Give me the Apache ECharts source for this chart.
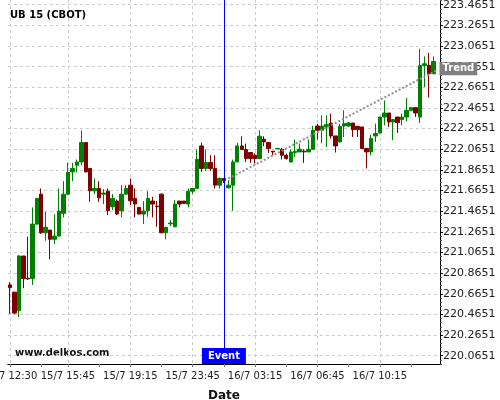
<!DOCTYPE html>
<html>
<head>
<meta charset="utf-8">
<script src="https://cdn.jsdelivr.net/npm/echarts@6/dist/echarts.min.js"></script>
<style>
  html, body { margin: 0; padding: 0; background: #fff; }
  #chart { width: 500px; height: 400px; }
</style>
</head>
<body>
<div id="chart"></div>
<script>
// 15-minute bars, UB 15 (CBOT)
const barCount = 97
const open = [220.751, 220.681, 220.503, 221.031, 220.816, 220.812, 221.340, 221.630, 221.256, 221.282,
  221.193, 221.224, 221.444, 221.630, 221.846, 221.910, 221.942, 222.130, 221.879, 221.662,
  221.685, 221.630, 221.659, 221.508, 221.563, 221.469, 221.630, 221.717, 221.589, 221.502,
  221.437, 221.469, 221.563, 221.514, 221.630, 221.256, 221.343, 221.314, 221.563, 221.563,
  221.534, 221.659, 221.685, 222.097, 221.879, 221.936, 221.879, 221.717, 221.782, 221.691,
  221.717, 221.942, 222.097, 222.062, 222.033, 222.007, 221.975, 222.162, 222.130, 222.046,
  222.068, 222.065, 222.007, 221.942, 222.033, 222.039, 222.046, 222.039, 222.065, 222.290,
  222.249, 222.281, 222.319, 222.194, 222.136, 222.290, 222.290, 222.319, 222.287, 222.281,
  222.072, 222.039, 222.194, 222.223, 222.377, 222.416, 222.329, 222.377, 222.352, 222.377,
  222.442, 222.468, 222.377, 222.877, 222.877, 222.796]
const close = [220.725, 220.478, 221.031, 220.812, 220.809, 221.340, 221.589, 221.256, 221.309, 221.193,
  221.224, 221.466, 221.630, 221.840, 221.879, 221.942, 222.130, 221.846, 221.662, 221.685,
  221.594, 221.640, 221.469, 221.589, 221.437, 221.630, 221.685, 221.565, 221.534, 221.437,
  221.466, 221.589, 221.534, 221.509, 221.256, 221.309, 221.350, 221.534, 221.534, 221.541,
  221.659, 221.685, 221.968, 221.879, 221.936, 221.879, 221.717, 221.782, 221.763, 221.717,
  221.942, 222.097, 222.062, 221.975, 221.975, 221.975, 222.191, 222.136, 222.072, 222.039,
  222.072, 222.007, 221.975, 222.039, 222.046, 222.065, 222.039, 222.065, 222.249, 222.249,
  222.290, 222.304, 222.194, 222.097, 222.287, 222.313, 222.319, 222.255, 222.255, 222.072,
  222.039, 222.168, 222.217, 222.377, 222.416, 222.329, 222.352, 222.323, 222.377, 222.442,
  222.468, 222.416, 222.877, 222.893, 222.796, 222.915]
const low = [220.471, 220.468, 220.439, 220.719, 220.799, 220.751, 221.331, 221.244, 221.179, 220.999,
  221.147, 221.218, 221.405, 221.621, 221.756, 221.840, 221.910, 221.840, 221.556, 221.630,
  221.556, 221.534, 221.427, 221.476, 221.427, 221.405, 221.630, 221.524, 221.405, 221.437,
  221.340, 221.411, 221.405, 221.314, 221.251, 221.193, 221.321, 221.309, 221.502, 221.534,
  221.502, 221.630, 221.679, 221.846, 221.855, 221.855, 221.685, 221.685, 221.737, 221.685,
  221.469, 221.942, 222.062, 221.942, 221.933, 221.927, 221.968, 222.094, 222.029, 222.007,
  222.068, 221.965, 221.965, 221.936, 221.991, 222.039, 221.933, 222.039, 222.062, 222.159,
  222.123, 222.087, 222.168, 222.033, 222.130, 222.184, 222.281, 222.184, 222.184, 222.072,
  221.879, 222.007, 222.136, 222.217, 222.297, 222.281, 222.152, 222.223, 222.297, 222.336,
  222.432, 222.377, 222.319, 222.667, 222.565, 222.796]
const high = [220.777, 220.684, 221.041, 221.031, 221.218, 221.502, 221.594, 221.685, 221.459, 221.282,
  221.434, 221.685, 221.756, 221.933, 221.933, 221.965, 222.249, 222.130, 221.879, 221.782,
  221.756, 221.679, 221.685, 221.630, 221.579, 221.717, 221.717, 221.782, 221.685, 221.502,
  221.563, 221.659, 221.604, 221.563, 221.637, 221.314, 221.379, 221.572, 221.563, 221.563,
  221.685, 221.685, 222.062, 222.130, 222.062, 222.007, 222.007, 221.792, 221.782, 221.765,
  221.965, 222.126, 222.191, 222.120, 222.039, 222.026, 222.249, 222.191, 222.130, 222.046,
  222.072, 222.078, 222.023, 222.062, 222.159, 222.120, 222.065, 222.159, 222.290, 222.313,
  222.394, 222.394, 222.410, 222.194, 222.313, 222.442, 222.329, 222.319, 222.287, 222.281,
  222.072, 222.207, 222.313, 222.377, 222.538, 222.416, 222.352, 222.377, 222.410, 222.561,
  222.474, 222.468, 223.038, 222.964, 222.999, 222.964]

// x tick labels (bar index -> label)
const timeTickIdx = [0, 13, 27, 41, 55, 69, 83]
const timeTickLabels = ['15/7 12:30', '15/7 15:45', '15/7 19:15', '15/7 23:45', '16/7 03:15', '16/7 06:45', '16/7 10:15']
const minorTimeIdx = [0, 7, 13, 20, 27, 34, 41, 48, 55, 62, 69, 76, 83, 90]

// y tick labels
const priceTicks = [220.0651, 220.2651, 220.4651, 220.6651, 220.8651, 221.0651, 221.2651, 221.4651, 221.6651,
  221.8651, 222.0651, 222.2651, 222.4651, 222.6651, 222.8651, 223.0651, 223.2651, 223.4651]
const priceMin = 219.9848
const priceMax = 223.5106

// event & trend
const eventIdx = 48
const trendStart = [49, 221.78]
const trendEnd = [96, 222.835]

const FONT = 'DejaVu Sans'

const categories = Array.from({ length: barCount }, (_, i) => String(i))
const candles = open.map((o, i) => [o, close[i], low[i], high[i]])

const minorPriceTicks = []
priceTicks.forEach(v => {
  for (let k = 1; k < 5; k++) minorPriceTicks.push(v - 0.2 + k * 0.04)
})
minorPriceTicks.push(priceTicks[priceTicks.length - 1] + 0.04)

const chart = echarts.init(document.getElementById('chart'))

const option = {
  animation: false,
  backgroundColor: '#fff',
  title: {
    text: 'UB 15 (CBOT)',
    left: 10,
    top: 10,
    padding: 0,
    textStyle: { fontFamily: FONT, fontSize: 10, fontWeight: 'bold', color: '#000' }
  },
  graphic: [
    {
      type: 'text',
      left: 15,
      top: 348,
      style: { text: 'www.delkos.com', font: 'bold 10px "DejaVu Sans"', fill: '#111' }
    }
  ],
  grid: {
    left: 7.8,
    right: 60,
    top: 0,
    bottom: 36,
    containLabel: false,
    outerBoundsMode: 'none'
  },
  xAxis: [
    {
      type: 'category',
      data: categories,
      boundaryGap: true,
      position: 'bottom',
      name: 'Date',
      nameLocation: 'middle',
      nameGap: 26,
      nameTextStyle: { fontFamily: FONT, fontSize: 12, fontWeight: 'bold', color: '#111' },
      axisLine: { show: true, onZero: false, lineStyle: { color: '#000', width: 1 } },
      axisTick: {
        show: true,
        alignWithLabel: true,
        length: 3,
        interval: (idx) => minorTimeIdx.includes(idx),
        lineStyle: { color: '#777' }
      },
      axisLabel: { show: false },
      splitLine: { show: false }
    },
    {
      type: 'value',
      position: 'bottom',
      min: -0.5,
      max: barCount - 0.5,
      axisLine: { show: false, onZero: false },
      axisTick: { show: false, customValues: timeTickIdx },
      axisLabel: {
        show: true,
        customValues: timeTickIdx,
        margin: 7,
        fontFamily: FONT,
        fontSize: 10,
        color: '#222',
        formatter: (v) => timeTickLabels[timeTickIdx.indexOf(Math.round(v))] || ''
      },
      splitLine: { show: true, lineStyle: { color: '#ccc', type: [3, 3], width: 1 } }
    }
  ],
  yAxis: [
    {
      type: 'value',
      position: 'right',
      min: priceMin,
      max: priceMax,
      scale: true,
      axisLine: { show: true, onZero: false, lineStyle: { color: '#000', width: 1 } },
      axisTick: { show: true, length: 3, customValues: priceTicks, lineStyle: { color: '#000' } },
      axisLabel: {
        show: true,
        customValues: priceTicks,
        margin: 3,
        fontFamily: FONT,
        fontSize: 11,
        color: '#222',
        formatter: (v) => v.toFixed(4)
      },
      splitLine: { show: true, lineStyle: { color: '#ccc', type: [3, 3], width: 1 } }
    },
    {
      type: 'value',
      position: 'right',
      min: priceMin,
      max: priceMax,
      scale: true,
      axisLine: { show: false, onZero: false },
      axisTick: { show: true, length: 2, customValues: minorPriceTicks, lineStyle: { color: '#555' } },
      axisLabel: { show: false },
      splitLine: { show: false }
    }
  ],
  series: [
    {
      name: 'UB 15',
      type: 'candlestick',
      xAxisIndex: 0,
      yAxisIndex: 0,
      data: candles,
      barWidth: '88%',
      itemStyle: {
        color: '#008000',
        color0: '#800000',
        borderColor: '#008000',
        borderColor0: '#800000',
        borderWidth: 1
      },
      markLine: {
        silent: true,
        symbol: 'none',
        animation: false,
        data: [
          {
            xAxis: eventIdx,
            lineStyle: { color: '#0000ff', type: 'solid', width: 1 },
            label: { show: false }
          },
          [
            {
              coord: trendStart,
              lineStyle: { color: '#8f8f8f', type: 'dotted', width: 2 },
              label: {
                show: true,
                position: 'end',
                formatter: 'Trend',
                distance: 2,
                fontFamily: FONT,
                fontSize: 10,
                fontWeight: 'bold',
                color: '#fff',
                backgroundColor: '#808080',
                padding: [1, 3, 1, 3],
                lineHeight: 11
              }
            },
            { coord: trendEnd }
          ]
        ]
      },
      markPoint: {
        silent: true,
        animation: false,
        symbol: 'rect',
        symbolSize: 0,
        data: [
          {
            coord: [eventIdx, priceMin],
            label: {
              show: true,
              position: 'top',
              distance: 0,
              formatter: 'Event',
              fontFamily: FONT,
              fontSize: 10,
              fontWeight: 'bold',
              color: '#fff',
              backgroundColor: '#0000ff',
              padding: [2, 6, 2, 6],
              lineHeight: 12
            }
          }
        ]
      }
    }
  ]
}

chart.setOption(option)
</script>
</body>
</html>
